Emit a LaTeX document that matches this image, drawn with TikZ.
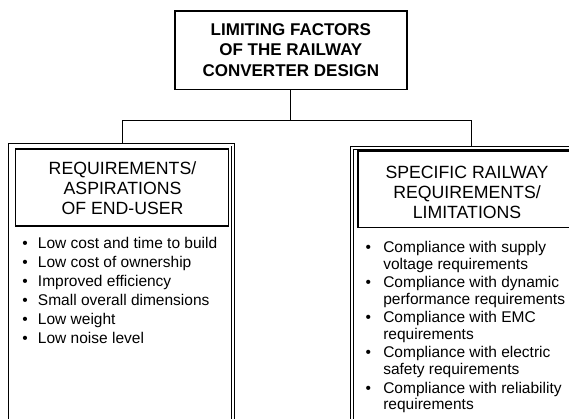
\documentclass[tikz,border=0pt]{standalone}
\usepackage{fontspec}
\setmainfont{Liberation Sans}
% bullet in a fixed-width slot, so that the item texts line up
\newcommand\listbullet[1]{\makebox[#1pt][l]{\textbullet}}
\newcommand\listindent[1]{\hspace*{#1pt}}
\begin{document}
\begin{tikzpicture}[x=1pt,y=-1pt,
  box/.style={draw,line width=1.3pt,inner sep=0pt,outer sep=0pt},
  frame/.style={draw,line width=0.8pt,double,double distance=1.9pt,
    inner sep=0pt,outer sep=0pt,anchor=north west,
    minimum width=223.5pt,minimum height=300pt},
  titlefont/.style={font=\fontsize{17}{20.3}\selectfont\bfseries},
  headfont/.style={font=\fontsize{17.7}{20}\selectfont},
  listnode/.style={anchor=north west,inner sep=0pt,outer sep=0pt,
    font=\fontsize{15.5}{16.8}\selectfont},
  link/.style={line width=1pt}]

\useasboundingbox (0,0) rectangle (569,418);
\clip (0,0) rectangle (569,418);

% title box
\node[box,line width=1.6pt,minimum width=231.7pt,minimum height=78.6pt,
      align=center,titlefont] (top) at (290.85,50)
  {LIMITING FACTORS\\OF THE RAILWAY\\CONVERTER DESIGN};

% the two double-ruled columns
\node[frame] (lframe) at (9.65,144.65) {};
\node[frame] (rframe) at (351.85,148.05) {};

% column headings
\node[box,minimum width=213pt,minimum height=77pt] (lhead) at (122,187.5) {};
\node[box,minimum width=213pt,minimum height=76.3pt] (rhead) at (464.5,189.15) {};
\node[headfont,align=center] (lheadtext) at (122.5,188.4)
  {REQUIREMENTS/\\ASPIRATIONS\\OF END-USER};
\node[headfont,align=center] (rheadtext) at (467,192.5)
  {SPECIFIC RAILWAY\\REQUIREMENTS/\\LIMITATIONS};

% item lists
\node[listnode] (llist) at (22.3,236.5) {%
  \begin{tabular}{@{}l@{}}
  \listbullet{15.7}Low cost and time to build\\[2.2pt]
  \listbullet{15.7}Low cost of ownership\\[2.2pt]
  \listbullet{15.7}Improved efficiency\\[2.2pt]
  \listbullet{15.7}Small overall dimensions\\[2.2pt]
  \listbullet{15.7}Low weight\\[2.2pt]
  \listbullet{15.7}Low noise level
  \end{tabular}};
\node[listnode] (rlist) at (365.6,240.9) {%
  \begin{tabular}{@{}l@{}}
  \listbullet{17.7}Compliance with supply\\
  \listindent{17.7}voltage requirements\\[1.5pt]
  \listbullet{17.7}Compliance with dynamic\\
  \listindent{17.7}performance requirements\\[1.5pt]
  \listbullet{17.7}Compliance with EMC\\
  \listindent{17.7}requirements\\[1.5pt]
  \listbullet{17.7}Compliance with electric\\
  \listindent{17.7}safety requirements\\[1.5pt]
  \listbullet{17.7}Compliance with reliability\\
  \listindent{17.7}requirements
  \end{tabular}};

% connectors
\coordinate (jl) at (122.5,120);
\coordinate (jr) at (471.7,120);
\draw[link] (top.south) -- (top.south |- jl);
\draw[link,shorten <=1.35pt,shorten >=1.35pt]
  (jl |- lframe.north) -- (jl) -- (jr) -- (jr |- rframe.north);
\end{tikzpicture}
\end{document}
